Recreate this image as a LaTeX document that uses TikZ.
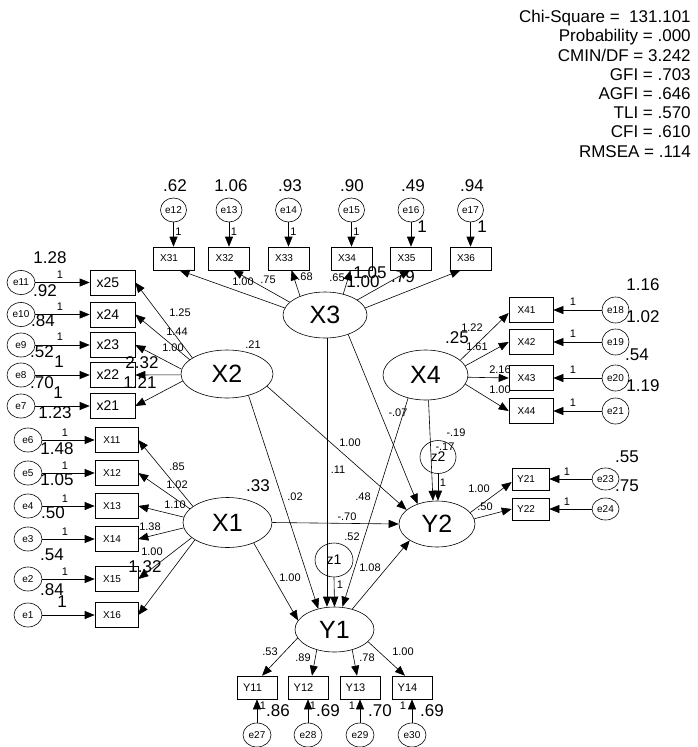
\documentclass[tikz,border=0pt]{standalone}
\usepackage{fontspec}
\setmainfont{Liberation Sans}
\usetikzlibrary{arrows.meta, shapes.geometric}

\begin{document}
\begin{tikzpicture}[x=1pt, y=-1pt, line width=0.6pt,
  lat/.style={ellipse, draw, inner sep=0pt, font=\fontsize{25}{25}\selectfont},
  obs/.style={rectangle, draw, inner sep=0pt, minimum width=43, minimum height=25, font=\fontsize{10}{10}\selectfont,
    execute at begin node={\hspace*{-9pt}}},
  err/.style={ellipse, draw, inner sep=0pt, minimum width=28, minimum height=24, font=\fontsize{10}{10}\selectfont},
  dist/.style={ellipse, draw, inner sep=0pt, minimum width=38, minimum height=34, font=\fontsize{14}{14}\selectfont},
  reg/.style={-{Triangle[length=10pt, width=8pt]}},
  cf/.style={inner sep=0pt, font=\fontsize{11}{11}\selectfont},
  vr/.style={inner sep=0pt, font=\fontsize{17}{17}\selectfont}]
  \useasboundingbox (0,0) rectangle (698,747);

  % fit indices
  \node[anchor=north east, align=right, inner sep=0pt, font=\fontsize{17}{19.2}\selectfont] (fit) at (691,10)
    {Chi-Square = \ 131.101\\Probability = .000\\CMIN/DF = 3.242\\GFI = .703\\AGFI = .646\\TLI = .570\\CFI = .610\\RMSEA = .114};

  % latent variables
  \node[lat, minimum width=84, minimum height=46] (X3) at (325,315) {X3};
  \node[lat, minimum width=92, minimum height=48] (X2) at (227,374) {X2};
  \node[lat, minimum width=85, minimum height=50] (X4) at (425.5,375) {X4};
  \node[lat, minimum width=89, minimum height=50] (X1) at (227.5,522.5) {X1};
  \node[lat, minimum width=76, minimum height=46] (Y2) at (437,524) {Y2};
  \node[lat, minimum width=79, minimum height=45] (Y1) at (334.5,629.5) {Y1};
  \node[dist] (z1) at (334,560) {z1};
  \node[dist, minimum width=36, minimum height=33] (z2) at (438,457) {z2};

  % indicators of X2
  \foreach \e/\b/\y in {11/25/282.5, 10/24/314.5, 9/23/345, 8/22/375, 7/21/406} {
    \node[obs, minimum width=45, font=\fontsize{14}{14}\selectfont] (x\b) at (112.5,\y) {x\b};
    \node[err] (e\e) at (21,\y) {e\e};
    \draw[reg] (e\e) -- (x\b);
  }
  % indicators of X1
  \foreach \e/\b/\y in {6/1/440, 5/2/473, 4/3/506, 3/4/539, 2/5/579, 1/6/615} {
    \node[obs] (X1\b) at (116.5,\y) {X1\b};
    \node[err] (e\e) at (28,\y) {e\e};
    \draw[reg] (e\e) -- (X1\b);
  }
  % indicators of X3
  \foreach \e/\b/\x in {12/1/173.5, 13/2/229, 14/3/288.5, 15/4/351.5, 16/5/411, 17/6/470.5} {
    \node[obs, minimum width=41, minimum height=23] (X3\b) at (\x,258.5) {X3\b};
    \node[err, minimum width=26] (e\e) at (\x,210) {e\e};
    \draw[reg] (e\e) -- (X3\b);
  }
  % indicators of X4
  \foreach \e/\b/\y in {18/1/310, 19/2/342, 20/3/378, 21/4/411} {
    \node[obs, minimum width=44] (X4\b) at (531,\y) {X4\b};
    \node[err, minimum width=27, minimum height=26] (e\e) at (615.5,\y) {e\e};
    \draw[reg] (e\e) -- (X4\b);
  }
  % indicators of Y2
  \foreach \e/\b/\y in {23/1/479, 24/2/509} {
    \node[obs, minimum width=37, minimum height=22] (Y2\b) at (530.5,\y) {Y2\b};
    \node[err, minimum width=27, minimum height=22] (e\e) at (605.5,\y) {e\e};
    \draw[reg] (e\e) -- (Y2\b);
  }
  % indicators of Y1
  \foreach \e/\b/\x in {27/1/257, 28/2/308, 29/3/360, 30/4/412} {
    \node[obs, minimum width=40, minimum height=23, font=\fontsize{11}{11}\selectfont] (Y1\b) at (\x,687.5) {Y1\b};
    \node[err] (e\e) at (\x,735) {e\e};
    \draw[reg] (e\e) -- (Y1\b);
  }

  % loadings
  \foreach \a/\b in {155/25, 159/24, 174/23, 181/22, 189/21}
    \draw[reg] (X2.\a) -- (x\b.east);
  \foreach \a/\b in {155/1, 160/2, 173/3, 187/4, 203/5, 208/6}
    \draw[reg] (X1.\a) -- (X1\b.east);
  \foreach \a/\b/\s in {170/1/6, 160/2/4, 143.5/3/3, 49/4/-1, 25/5/-1, 10/6/-10}
    \draw[reg] (X3.\a) -- ([xshift=\s]X3\b.south);
  \foreach \a/\b/\s in {23/1/-3, 13/2/0, 357/3/0, 347/4/0}
    \draw[reg] (X4.\a) -- ([yshift=\s]X4\b.west);
  \draw[reg] (Y2.19) -- ([yshift=-3]Y21.west);
  \draw[reg] (Y2.8) -- (Y22.west);
  \foreach \a/\b/\s in {193/1/5, 229/2/4, 311/3/-3, 340/4/-7}
    \draw[reg] (Y1.\a) -- ([xshift=\s]Y1\b.north);

  % structural paths
  \draw[reg] ([xshift=2]X3.south) -- ([xshift=-7.5]Y1.north);
  \draw[reg] (X3.-40) -- (Y2.134);
  \draw[reg] (X2.-45) -- (Y1.128);
  \draw[reg] (X2.-17) -- (Y2.155);
  \draw[reg] (X4.233) -- ([xshift=8]Y1.north);
  \draw[reg] ([xshift=3]X4.south) -- ([xshift=-4]Y2.north);
  \draw[reg] (X1.east) -- (Y2.west);
  \draw[reg] (X1.-38) -- (Y1.166);
  \draw[reg] (Y1.49) -- (Y2.211);
  \draw[reg] (z1.south) -- (Y1.north);
  \draw[reg] (z2.south) -- ([xshift=1]Y2.north);

  % estimates, small
  \foreach \t/\x/\y [count=\i] in {1.25/180/313, 1.44/177/332, 1.00/173/348, .21/253/345,
      .85/177/467, 1.02/177/485, 1.10/175/505, 1.38/150/527, 1.00/152/552,
      1.00/243/282, .75/268/280, .68/305/277, .65/337/278,
      1.22/472/328, 1.61/477/347, 2.16/500/370, 1.00/500/390,
      .02/295/497, .11/338/470, 1.00/350/443, -.07/398/413, .48/363/497, -.70/347/517,
      .52/352/537, 1.00/290/578, 1.08/370/568, -.19/456/433, -.17/445/447,
      1.00/479/489, .50/485/507, .53/270/652, .89/303/658, .78/367/658, 1.00/403/652}
    \node[cf] (c\i) at (\x,\y) {\t};
  % fixed weights
  \foreach \x/\y [count=\i] in {60/275, 60/307, 60/337, 65/433, 65/466, 65/499, 65/532, 65/572,
      178.5/232, 234/232, 293.5/232, 356.5/232, 573/302, 573/334, 573/370, 573/403,
      567/472, 567/502, 263/706, 313/706, 352/706, 403/706, 340/585, 443/483}
    \node[cf] (w\i) at (\x,\y) {1};
  % estimates, large
  \foreach \t/\x/\y [count=\i] in {1.28/50/258, .92/45/291, .84/43/321, .52/42/352, 1/59/362,
      .70/42/383, 1/58/393, 1.23/55/413, 1.48/57/449, 1.05/57/480, .50/53/513, .54/52/555,
      .84/52/590, 1/62/602, 2.32/142/363, 1.21/140/383, 1.32/145/567, .33/258/486, .25/457/338,
      1.05/370/273, 1.00/363/282, .79/403/277, 1/422/227, 1/482/227,
      .62/175/186, 1.06/231/186, .93/290/186, .90/352/186, .49/413/186, .94/472/186,
      1.16/643/285, 1.02/643/317, .54/637/355, 1.19/643/386, .55/627/457, .75/627/486,
      .86/278/711, .69/328/711, .70/380/711, .69/432/711}
    \node[vr] (v\i) at (\x,\y) {\t};
\end{tikzpicture}
\end{document}
